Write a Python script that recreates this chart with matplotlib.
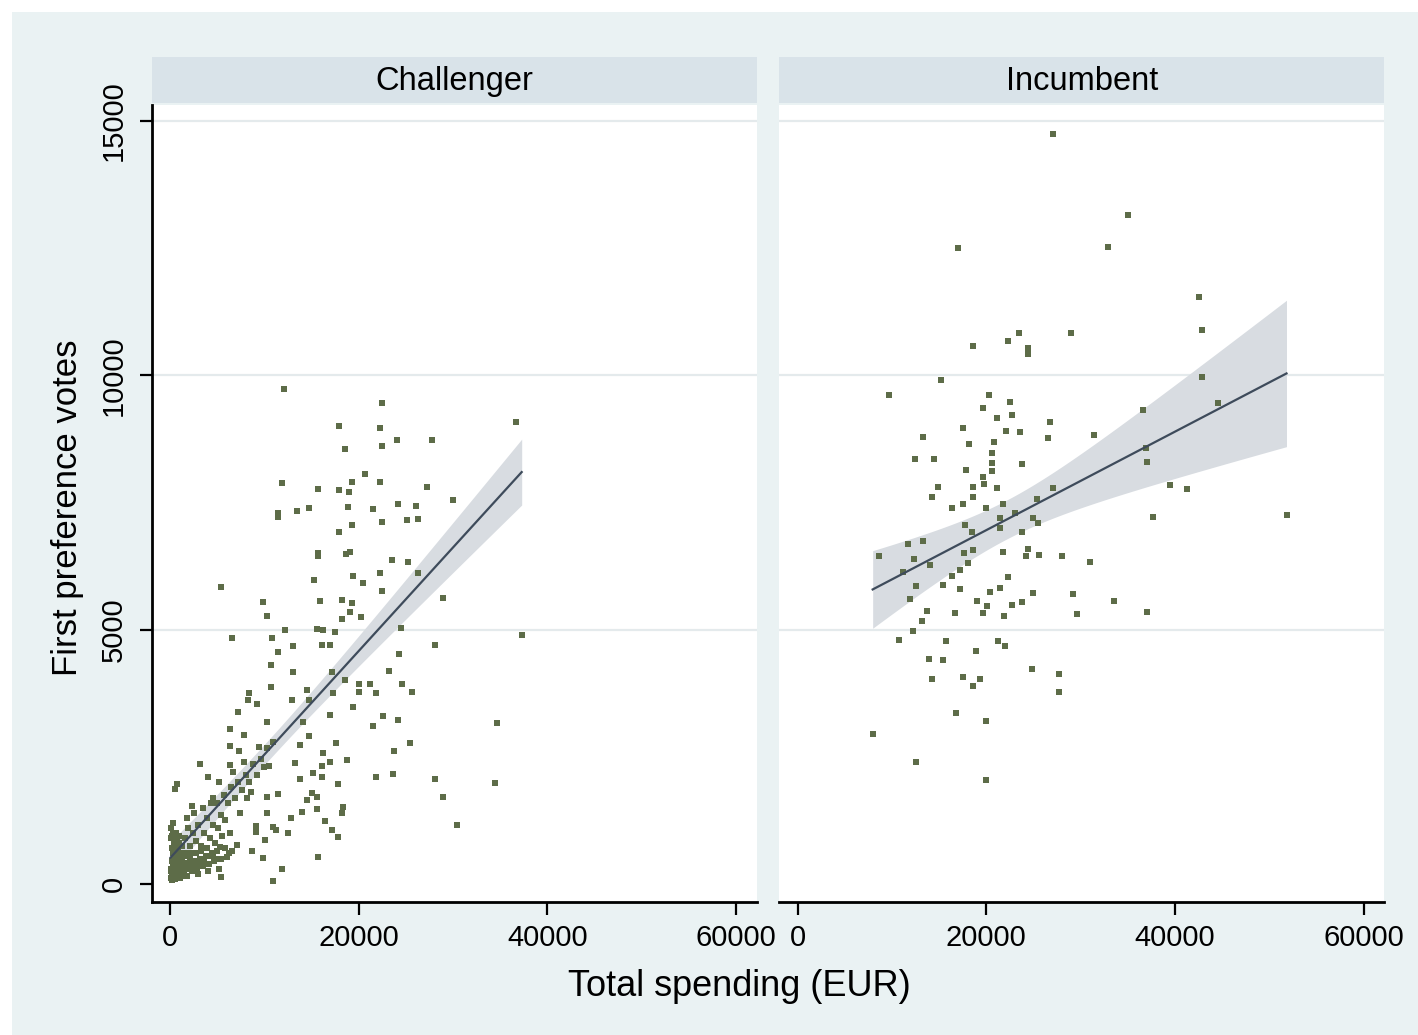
import matplotlib.pyplot as plt
import numpy as np
from matplotlib.patches import Rectangle

plt.rcParams['font.family'] = ['Liberation Sans', 'DejaVu Sans']

panels = ['Challenger', 'Incumbent']
x_ticks = [0, 20000, 40000, 60000]
y_ticks = [0, 5000, 10000, 15000]

# Challengers: total spending (EUR) and first preference votes
challenger_spend = [
    12080, 22440, 17910, 22260, 24030, 27740, 36640, 18550, 22440, 20670,
    11840, 19320, 22260, 15720, 17910, 18970, 27210, 30030, 11480, 11480,
    13430, 14730, 18900, 21550, 24140, 26040, 22440, 25090, 26320, 19320,
    17910, 15720, 15720, 18620, 19080, 23500, 25200, 22260, 26260, 5370,
    15300, 19430, 20490, 22500, 28910, 9830, 15900, 18260, 19260, 19080,
    10310, 18200, 20250, 12190, 15550, 16190, 17490, 24450, 37280, 6540,
    10780, 28090, 24270, 23250, 24560, 25680, 22550, 24200, 34630, 25440,
    23740, 23670, 28090, 34450, 28910, 30450, 13070, 16080, 16960, 11480,
    10670, 13070, 17140, 18550, 10670, 14490, 17310, 20030, 21200, 21840,
    20030, 8410, 8240, 9250, 12900, 14770, 19430, 7240, 16960, 21550,
    10250, 14130, 6360, 7840, 14730, 17560, 13780, 6360, 10950, 10310,
    7350, 16250, 18730, 16960, 3180, 6360, 13250, 16080, 10530, 4060,
    15190, 16080, 21840, 17840, 13780, 710, 530, 15020, 15550, 11480,
    10250, 8130, 14490, 2300, 18370, 18200, 13960, 15550, 10250, 7420,
    12790, 16430, 9120, 10890, 11240, 9120, 17140, 12480, 17840, 10070,
    7130, 8660, 9890, 15720, 5300, 6010, 11840, 5410, 10950,
    100, 250, 150, 300, 450, 500, 600, 700, 800, 900,
    1000, 1100, 1200, 1300, 400, 200, 650, 750, 1400, 1500,
    350, 550, 850, 950, 1150, 1250, 50, 450, 1050, 1350,
    200, 100, 600, 300, 900, 150,
    80, 180, 280, 380, 480, 580, 680, 780, 880, 980,
    1080, 1180, 1280, 1380, 1480, 1580, 1680, 1780, 1880, 1980,
    2100, 2400, 2700, 3000, 3300, 3600, 3900, 4200, 4500, 4800,
    120, 320, 520, 720, 920,
    1700, 2000, 2300, 2600, 2900, 3200, 3500, 3800, 4100, 4400,
    4700, 5000, 5400, 5800, 6200, 6600, 2200, 3000, 4000, 5200,
    1600, 1900, 2100, 2400, 2700, 3000, 3300, 3600, 3900, 4200,
    4500, 4800, 5100, 5500, 2500, 3500, 1800, 4300, 5800, 6300,
    4600, 5000, 5400, 5700, 6100, 6500, 6900, 7200, 7600, 8000,
    8400, 8800, 9200, 9600, 10000, 5200, 7800, 8600, 9400, 6700,
]
challenger_votes = [
    9730, 9450, 9010, 8960, 8730, 8730, 9090, 8550, 8620, 8060,
    7890, 7910, 7910, 7770, 7750, 7710, 7800, 7550, 7300, 7220,
    7340, 7400, 7420, 7370, 7480, 7430, 7110, 7160, 7170, 7060,
    6930, 6510, 6440, 6480, 6530, 6370, 6330, 6120, 6120, 5830,
    5980, 6060, 5910, 5770, 5620, 5550, 5570, 5580, 5520, 5350,
    5260, 5200, 5240, 4990, 5010, 4990, 4960, 5030, 4900, 4840,
    4830, 4700, 4520, 4190, 3930, 3770, 3300, 3220, 3160, 2780,
    2620, 2160, 2060, 1990, 1720, 1160, 4670, 4690, 4700, 4570,
    4310, 4160, 4170, 4010, 3870, 3810, 3760, 3930, 3930, 3750,
    3770, 3760, 3620, 3530, 3620, 3620, 3470, 3390, 3320, 3110,
    3190, 3190, 3040, 2930, 2910, 2780, 2730, 2710, 2800, 2670,
    2620, 2580, 2440, 2400, 2360, 2340, 2370, 2310, 2310, 2110,
    2180, 2110, 2110, 1970, 2060, 1970, 1860, 1780, 1720, 1760,
    1720, 1690, 1650, 1530, 1520, 1400, 1420, 1470, 1400, 1390,
    1300, 1230, 1140, 1130, 1060, 1030, 1060, 1000, 930, 870,
    770, 640, 520, 530, 730, 540, 290, 140, 50,
    120, 300, 450, 600, 150, 380, 650, 250, 500, 350,
    120, 600, 420, 250, 800, 700, 500, 850, 550, 350,
    200, 100, 700, 200, 300, 750, 300, 550, 450, 600,
    950, 1100, 1000, 1200, 950, 200,
    250, 80, 420, 180, 300, 500, 120, 380, 220, 560,
    300, 150, 480, 350, 200, 550, 420, 150, 600, 320,
    500, 350, 600, 420, 650, 480, 700, 550, 600, 500,
    900, 1000, 850, 950, 800,
    300, 400, 250, 450, 300, 500, 350, 550, 400, 600,
    450, 650, 500, 700, 600, 650, 600, 200, 250, 300,
    900, 1100, 750, 1000, 850, 1150, 750, 1000, 1300, 900,
    1150, 800, 1100, 950, 1400, 1500, 1300, 1600, 1250, 1000,
    1700, 1600, 1350, 1750, 1600, 1900, 1700, 2000, 1850, 2150,
    2000, 2350, 2150, 2450, 2300, 2000, 2400, 1800, 2700, 2200,
]

# Incumbents
incumbent_spend = [
    27030, 35050, 16960, 32860, 42570, 42820, 23490, 28970, 22320, 18550,
    24380, 24380, 42820, 15190, 9710, 20280, 22500, 19670, 36630, 44580,
    22750, 21090, 26740, 17550, 22050, 23560, 31410, 13310, 26500, 18190,
    20840, 20560, 36920, 36990, 12430, 14450, 20630, 23740, 17810, 20560,
    19670, 39460, 41230, 14840, 18550, 19750, 21160, 14270, 18610, 27090,
    21790, 25330, 17490, 16320, 19930, 37630, 51830, 21440, 24970, 25500,
    23030, 17730, 21440, 23740, 18440, 13250, 11720, 8620, 12330, 18610,
    17630, 21790, 24440, 24170, 25610, 27980, 30980, 18080, 11190, 14020,
    17200, 16320, 22320, 12540, 15370, 17200, 20380, 21440, 24910, 29210,
    33530, 11900, 19040, 20030, 22750, 23740, 29570, 36990, 13740, 16670,
    19610, 21900, 13140, 12190, 10770, 15720, 21260, 21970, 18870, 13950,
    15430, 24800, 27700, 14200, 17490, 19320, 18550, 27730, 16780, 19930,
    7950, 12540, 19930,
]
incumbent_votes = [
    14740, 13150, 12500, 12520, 11550, 10900, 10830, 10830, 10680, 10580,
    10530, 10410, 9970, 9910, 9620, 9620, 9470, 9350, 9320, 9450,
    9230, 9170, 9090, 8970, 8910, 8890, 8830, 8790, 8760, 8660,
    8680, 8480, 8570, 8300, 8350, 8350, 8280, 8250, 8130, 8110,
    8010, 7840, 7760, 7800, 7800, 7860, 7780, 7610, 7610, 7780,
    7470, 7570, 7470, 7400, 7390, 7220, 7250, 7190, 7190, 7100,
    7290, 7060, 6990, 6930, 6930, 6740, 6680, 6450, 6380, 6570,
    6500, 6530, 6590, 6450, 6470, 6450, 6340, 6320, 6140, 6270,
    6170, 6060, 6040, 5860, 5870, 5800, 5750, 5810, 5720, 5700,
    5560, 5600, 5560, 5470, 5490, 5550, 5300, 5350, 5370, 5330,
    5330, 5260, 5180, 4980, 4800, 4780, 4780, 4680, 4580, 4420,
    4400, 4230, 4120, 4040, 4060, 4040, 3890, 3780, 3360, 3210,
    2950, 2390, 2050,
]

BG = '#eaf2f3'
STRIP = '#d9e3e9'
MARKER = '#5d6c48'
FIT = '#3e4b5b'
BAND = '#d8dce1'
GRID = '#e4eaec'


def linear_fit_ci(x, y, t=1.97, steps=100):
    x = np.asarray(x, dtype=float)
    y = np.asarray(y, dtype=float)
    n = len(x)
    slope, intercept = np.polyfit(x, y, 1)
    resid = y - (intercept + slope * x)
    s = np.sqrt(np.sum(resid ** 2) / (n - 2))
    xbar = x.mean()
    sxx = np.sum((x - xbar) ** 2)
    grid = np.linspace(x.min(), x.max(), steps)
    fit = intercept + slope * grid
    se = s * np.sqrt(1.0 / n + (grid - xbar) ** 2 / sxx)
    return grid, fit, fit - t * se, fit + t * se


W, H = 1418, 1035
fig = plt.figure(figsize=(W / 100, H / 100), dpi=100)
fig.patch.set_facecolor('white')
fig.add_artist(Rectangle((12 / W, 0), 1, 1 - 12 / H, transform=fig.transFigure,
                         facecolor=BG, edgecolor='none', zorder=-10))

ax_bottom = (H - 902) / H
ax_height = (902 - 105) / H
ax_width = (756.7 - 151.7) / W
lefts = [151.7 / W, 779.3 / W]

data = [(challenger_spend, challenger_votes, 1.97),
        (incumbent_spend, incumbent_votes, 1.98)]

for i, (title, (xs, ys, tval)) in enumerate(zip(panels, data)):
    ax = fig.add_axes([lefts[i], ax_bottom, ax_width, ax_height])
    ax.set_facecolor('white')
    ax.set_xlim(-1950, 62200)
    ax.set_ylim(-354, 15315)

    for yv in y_ticks[1:]:
        ax.axhline(yv, color=GRID, lw=1.6, zorder=0)

    gx, gy, lo, hi = linear_fit_ci(xs, ys, t=tval)
    ax.fill_between(gx, lo, hi, color=BAND, lw=0, zorder=1)
    ax.plot(xs, ys, 's', color=MARKER, markersize=4.0, markeredgewidth=0,
            zorder=2)
    ax.plot(gx, gy, color=FIT, lw=1.6, zorder=3)

    for side in ['top', 'right']:
        ax.spines[side].set_visible(False)
    ax.spines['bottom'].set_linewidth(2)
    ax.spines['bottom'].set_color('black')

    ax.set_xticks(x_ticks)
    ax.set_xticklabels([str(v) for v in x_ticks])
    ax.tick_params(axis='x', direction='out', length=9, width=1.6,
                   labelsize=21, pad=7)

    if i == 0:
        ax.spines['left'].set_linewidth(2)
        ax.spines['left'].set_color('black')
        ax.set_yticks(y_ticks)
        ax.set_yticklabels([str(v) for v in y_ticks], rotation=90, va='center')
        ax.tick_params(axis='y', direction='out', length=9, width=1.6,
                       labelsize=21, pad=8)
    else:
        ax.spines['left'].set_visible(False)
        ax.set_yticks(y_ticks)
        ax.tick_params(axis='y', length=0, labelleft=False)

    # panel header
    strip = fig.add_axes([lefts[i], (H - 103) / H, ax_width, 46 / H])
    strip.set_facecolor(STRIP)
    strip.set_xticks([])
    strip.set_yticks([])
    for sp in strip.spines.values():
        sp.set_visible(False)
    strip.text(0.5, 0.47, title, ha='center', va='center', fontsize=23.5,
               transform=strip.transAxes)

fig.text(68 / W, 1 - 508 / H, 'First preference votes', rotation=90,
         ha='center', va='center', fontsize=25)
fig.text(739 / W, 1 - 987 / H, 'Total spending (EUR)', ha='center',
         va='center', fontsize=26)

fig.savefig('out.png', dpi=100)
